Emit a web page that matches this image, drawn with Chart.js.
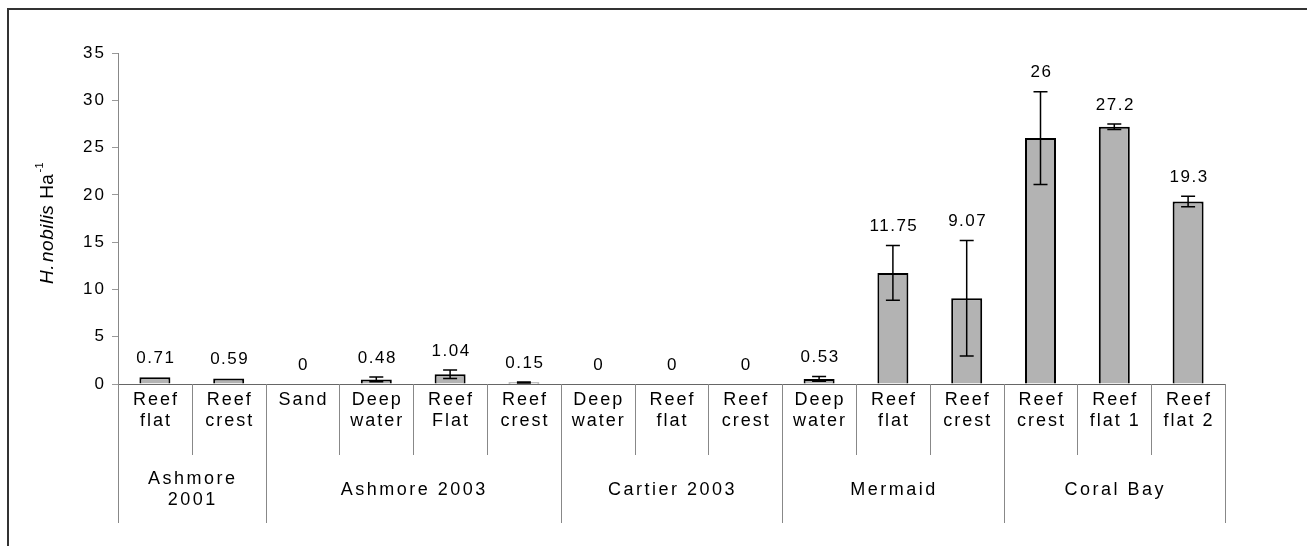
<!DOCTYPE html>
<html>
<head>
<meta charset="utf-8">
<style>
  html, body { margin: 0; padding: 0; background: #fff; }
  #wrap { width: 1307px; height: 546px; position: relative; }
</style>
</head>
<body>
<div id="wrap"><canvas id="myChart"></canvas></div>
<script src="https://cdn.jsdelivr.net/npm/chart.js@4.4.0/dist/chart.umd.min.js"></script>
<script>
// sites (lower row of the axis) and their regions (upper row)
const siteLabels = [
  ['Reef', 'flat'], ['Reef', 'crest'],
  ['Sand'], ['Deep', 'water'], ['Reef', 'Flat'], ['Reef', 'crest'],
  ['Deep', 'water'], ['Reef', 'flat'], ['Reef', 'crest'],
  ['Deep', 'water'], ['Reef', 'flat'], ['Reef', 'crest'],
  ['Reef', 'crest'], ['Reef', 'flat 1'], ['Reef', 'flat 2']
];
const regionLabels = [['Ashmore', '2001'], ['Ashmore 2003'], ['Cartier 2003'], ['Mermaid'], ['Coral Bay']];
const regionSizes = [2, 4, 3, 3, 3];

// density and error (+/-)
const density = [0.71, 0.59, 0, 0.48, 1.04, 0.15, 0, 0, 0, 0.53, 11.75, 9.07, 26, 27.2, 19.3];
const errors  = [0, 0, 0, 0.25, 0.45, 0.05, 0, 0, 0, 0.25, 2.9, 6.1, 4.9, 0.3, 0.55];

const yTicks = { min: 0, max: 35, step: 5 };

const FONT = '"Liberation Sans", Arial, sans-serif';

// frame round the figure (only top and left show in the crop)
const framePlugin = {
  id: 'frame',
  beforeDraw(chart) {
    const ctx = chart.ctx;
    ctx.save();
    ctx.strokeStyle = '#333';
    ctx.lineWidth = 2;
    ctx.beginPath();
    ctx.moveTo(8, 546);
    ctx.lineTo(8, 9);
    ctx.lineTo(1307, 9);
    ctx.stroke();
    ctx.restore();
    ctx.letterSpacing = '2px';
  }
};

// error bars + value labels
const errorPlugin = {
  id: 'errorBars',
  afterDatasetsDraw(chart) {
    const ctx = chart.ctx;
    const meta = chart.getDatasetMeta(0);
    const y = chart.scales.y;
    ctx.save();
    ctx.strokeStyle = '#000';
    ctx.lineWidth = 1.5;
    meta.data.forEach((bar, i) => {
      const e = errors[i];
      const v = density[i];
      const x = bar.x;
      if (e > 0) {
        const yt = y.getPixelForValue(v + e);
        const yb = y.getPixelForValue(v - e);
        ctx.beginPath();
        ctx.moveTo(x, yt); ctx.lineTo(x, yb);
        ctx.moveTo(x - 7, yt); ctx.lineTo(x + 7, yt);
        ctx.moveTo(x - 7, yb); ctx.lineTo(x + 7, yb);
        ctx.stroke();
      }
      ctx.fillStyle = '#000';
      ctx.font = '17px ' + FONT;
      ctx.letterSpacing = '1.5px';
      ctx.textAlign = 'center';
      ctx.textBaseline = 'middle';
      ctx.fillText(String(v), x + 1, y.getPixelForValue(v + e) - 19);
    });
    ctx.restore();
  }
};

// two-row category axis with separators, and the y title
const axisPlugin = {
  id: 'multiAxis',
  afterDraw(chart) {
    const ctx = chart.ctx;
    const x = chart.scales.x;
    const area = chart.chartArea;
    const y0 = area.bottom;
    const n = siteLabels.length;
    const w = (area.right - area.left) / n;
    ctx.save();
    ctx.strokeStyle = '#888';
    ctx.lineWidth = 1;
    // boundaries
    const outer = [0];
    let acc = 0;
    regionSizes.forEach(s => { acc += s; outer.push(acc); });
    for (let i = 0; i <= n; i++) {
      const px = Math.round(area.left + i * w) + 0.5;
      const len = outer.includes(i) ? 139 : 71;
      ctx.beginPath();
      ctx.moveTo(px, y0);
      ctx.lineTo(px, y0 + len);
      ctx.stroke();
    }
    ctx.fillStyle = '#000';
    ctx.font = '18px ' + FONT;
    ctx.letterSpacing = '2px';
    ctx.textAlign = 'center';
    ctx.textBaseline = 'middle';
    siteLabels.forEach((lines, i) => {
      const cx = x.getPixelForValue(i) + 1;
      lines.forEach((t, j) => ctx.fillText(t, cx, y0 + 16 + j * 21));
    });
    ctx.letterSpacing = '2.5px';
    let start = 0;
    regionLabels.forEach((lines, g) => {
      const cx = area.left + (start + regionSizes[g] / 2) * w + 1;
      const top = y0 + 106 - (lines.length - 1) * 10.5;
      lines.forEach((t, j) => ctx.fillText(t, cx, top + j * 21));
      start += regionSizes[g];
    });
    // y title: H. nobilis Ha-1
    ctx.letterSpacing = '0.5px';
    ctx.translate(48, 284);
    ctx.rotate(-Math.PI / 2);
    ctx.textAlign = 'left';
    ctx.textBaseline = 'middle';
    ctx.font = 'italic 19px ' + FONT;
    let px = 0;
    ctx.fillText('H.', px, 0);
    px += ctx.measureText('H.').width + 2;
    ctx.fillText('nobilis', px, 0);
    px += ctx.measureText('nobilis').width;
    ctx.font = '19px ' + FONT;
    ctx.fillText(' Ha', px, 0);
    px += ctx.measureText(' Ha').width + 1;
    ctx.font = '11px ' + FONT;
    ctx.fillText('-1', px, -8);
    ctx.restore();
  }
};

const ctx = document.getElementById('myChart').getContext('2d');
const chart = new Chart(ctx, {
  type: 'bar',
  data: {
    labels: siteLabels,
    datasets: [{
      data: density,
      backgroundColor: '#b3b3b3',
      borderColor: '#000',
      borderWidth: 2,
      borderSkipped: 'bottom',
      barPercentage: 0.42,
      categoryPercentage: 1
    }]
  },
  options: {
    responsive: true,
    maintainAspectRatio: false,
    animation: false,
    layout: { padding: { left: 0, right: 82, top: 53, bottom: 162 } },
    plugins: { legend: { display: false }, tooltip: { enabled: false } },
    scales: {
      x: {
        grid: { display: false },
        border: { display: true, color: '#666', width: 1 },
        ticks: { display: false },
        afterFit(scale) { scale.height = 0; }
      },
      y: {
        min: yTicks.min,
        max: yTicks.max,
        ticks: {
          stepSize: yTicks.step,
          color: '#000',
          font: { family: FONT, size: 17 },
          padding: 6
        },
        grid: { display: true, drawOnChartArea: false, drawTicks: true, tickLength: 6, color: '#999' },
        border: { display: true, color: '#888', width: 1 },
        afterFit(scale) { scale.width = 118; }
      }
    }
  },
  plugins: [framePlugin, errorPlugin, axisPlugin]
});
</script>
</body>
</html>
